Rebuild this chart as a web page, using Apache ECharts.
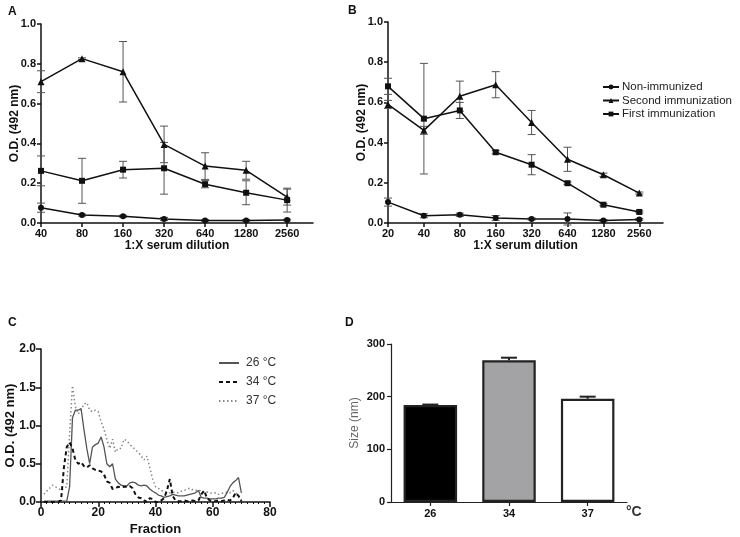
<!DOCTYPE html>
<html>
<head>
<meta charset="utf-8">
<script src="https://cdn.jsdelivr.net/npm/echarts@6/dist/echarts.min.js"></script>
<style>html,body{margin:0;padding:0;background:#fff}#c{width:740px;height:537px}</style>
</head>
<body>
<div id="c"></div>
<script>
// ---------- Panel A ----------
const dilA = ['40','80','160','320','640','1280','2560'];
const aNon = [0.077,0.040,0.034,0.020,0.013,0.013,0.015];
const aNonErr = [0.023,0.005,0.005,0.008,0.004,0.004,0.004];
const aSecond = [0.710,0.826,0.760,0.395,0.286,0.265,0.130];
const aSecondErr = [0.055,0.004,0.152,0.092,0.067,0.045,0.040];
const aFirst = [0.262,0.212,0.268,0.275,0.195,0.152,0.115];
const aFirstErr = [0.075,0.113,0.042,0.130,0.018,0.060,0.060];
// ---------- Panel B ----------
const dilB = ['20','40','80','160','320','640','1280','2560'];
const bNon = [0.104,0.036,0.041,0.025,0.020,0.020,0.013,0.018];
const bNonErr = [0.020,0.010,0.008,0.012,0.005,0.030,0.004,0.004];
const bSecond = [0.590,0.461,0.631,0.688,0.500,0.317,0.240,0.149];
const bSecondErr = [0.020,0.020,0.075,0.065,0.060,0.060,0.008,0.005];
const bFirst = [0.680,0.519,0.560,0.352,0.290,0.198,0.091,0.055];
const bFirstErr = [0.040,0.275,0.040,0.008,0.050,0.006,0.005,0.005];
// ---------- Panel C (fractions 1..70) ----------
const fractions = Array.from({length:70}, (_, i) => i + 1);
const c26 = [0.01,0.01,0.01,0.01,0.01,0.01,0.01,0.01,0.01,0.20,
             1.10,1.20,1.20,1.22,0.95,0.70,0.50,0.72,0.75,0.77,
             0.85,0.72,0.50,0.46,0.50,0.30,0.25,0.22,0.21,0.21,
             0.25,0.26,0.25,0.22,0.21,0.22,0.21,0.17,0.14,0.12,
             0.09,0.08,0.06,0.07,0.08,0.10,0.09,0.08,0.08,0.08,
             0.09,0.10,0.11,0.12,0.15,0.06,0.05,0.05,0.04,0.04,
             0.04,0.05,0.05,0.06,0.12,0.20,0.25,0.28,0.32,0.12];
const c34 = [0.00,0.00,0.00,0.00,0.00,0.00,0.02,0.45,0.72,0.78,
             0.70,0.55,0.50,0.52,0.47,0.45,0.48,0.44,0.42,0.41,
             0.40,0.36,0.27,0.25,0.17,0.18,0.20,0.19,0.20,0.20,
             0.21,0.18,0.10,0.06,0.05,0.02,0.00,0.05,0.04,0.00,
             0.00,0.02,0.05,0.15,0.30,0.08,0.02,0.01,0.01,0.02,
             0.01,0.01,0.02,0.01,0.02,0.10,0.15,0.05,0.02,0.02,
             0.01,0.02,0.01,0.02,0.03,0.02,0.05,0.12,0.08,0.01];
const c37 = [0.10,0.14,0.18,0.22,0.20,0.18,0.15,0.18,0.20,0.90,
             1.52,1.25,1.15,1.20,1.28,1.30,1.20,1.18,1.20,1.18,
             1.05,0.95,0.82,0.70,0.82,0.65,0.70,0.70,0.82,0.80,
             0.75,0.72,0.68,0.65,0.60,0.55,0.60,0.45,0.30,0.20,
             0.18,0.15,0.14,0.13,0.12,0.13,0.12,0.12,0.14,0.15,
             0.17,0.18,0.16,0.15,0.16,0.14,0.12,0.13,0.12,0.11,
             0.12,0.10,0.11,0.12,0.13,0.12,0.15,0.12,0.08,0.03];
// ---------- Panel D ----------
const temps = ['26','34','37'];
const sizes = [184,269,196];
const sizeErr = [1,5,4];

const FONT = 'Liberation Sans, Arial, sans-serif';
const pair = (vals) => vals.map((v, i) => [i, v]);
const errData = (vals, errs) => vals.map((v, i) => [i, v - errs[i], v + errs[i]]);

function errRender(capW, stroke, lw) {
  return function (params, api) {
    const x = api.value(0), lo = api.value(1), hi = api.value(2);
    const p1 = api.coord([x, hi]);
    const p2 = api.coord([x, lo]);
    const st = {stroke: stroke, lineWidth: lw};
    return {type: 'group', children: [
      {type: 'line', shape: {x1: p1[0], y1: p1[1], x2: p2[0], y2: p2[1]}, style: st},
      {type: 'line', shape: {x1: p1[0] - capW, y1: p1[1], x2: p1[0] + capW, y2: p1[1]}, style: st},
      {type: 'line', shape: {x1: p2[0] - capW, y1: p2[1], x2: p2[0] + capW, y2: p2[1]}, style: st}
    ]};
  };
}

const axisLineBold = {show: true, lineStyle: {color: '#111', width: 1.5}};
const tickBold = {show: true, length: 4, lineStyle: {color: '#111', width: 1.5}};
const labelBold = {color: '#111', fontFamily: FONT, fontWeight: 'bold', fontSize: 11};
const nameBold = {color: '#111', fontFamily: FONT, fontWeight: 'bold', fontSize: 12};

function dilXAxis(gridIndex, labels, max) {
  const idx = labels.map((_, i) => i);
  return {
    type: 'value', gridIndex: gridIndex, min: 0, max: max,
    name: '1:X serum dilution', nameLocation: 'middle', nameGap: 17, nameTextStyle: nameBold,
    axisLine: axisLineBold,
    axisTick: Object.assign({customValues: idx}, tickBold),
    axisLabel: Object.assign({customValues: idx, margin: 5, formatter: v => labels[Math.round(v)] || ''}, labelBold),
    splitLine: {show: false}
  };
}
function odYAxis(gridIndex) {
  return {
    type: 'value', gridIndex: gridIndex, min: 0, max: 1, interval: 0.2,
    name: 'O.D. (492 nm)', nameLocation: 'middle', nameGap: 20, nameMoveOverlap: false, nameTextStyle: nameBold,
    axisLine: axisLineBold, axisTick: tickBold,
    axisLabel: Object.assign({margin: 5, formatter: v => v.toFixed(1)}, labelBold),
    splitLine: {show: false}
  };
}

function lineSeries(name, xi, vals, symbol, size) {
  return {
    type: 'line', name: name, xAxisIndex: xi, yAxisIndex: xi, data: pair(vals),
    symbol: symbol, symbolSize: size, showSymbol: true,
    lineStyle: {color: '#111', width: 1.5}, itemStyle: {color: '#111'},
    emphasis: {disabled: true}, z: 3
  };
}
function errSeries(name, xi, vals, errs) {
  return {
    type: 'custom', name: name, xAxisIndex: xi, yAxisIndex: xi,
    renderItem: errRender(4, '#555', 1), data: errData(vals, errs),
    encode: {x: 0, y: [1, 2]}, z: 2, silent: true
  };
}

const option = {
  animation: false,
  backgroundColor: '#fff',
  textStyle: {fontFamily: FONT},
  title: [
    {text: 'A', left: 3, top: 1, textStyle: {fontSize: 12, fontWeight: 'bold', color: '#111', fontFamily: FONT}},
    {text: 'B', left: 343, top: 0, textStyle: {fontSize: 12, fontWeight: 'bold', color: '#111', fontFamily: FONT}},
    {text: 'C', left: 3, top: 312, textStyle: {fontSize: 12, fontWeight: 'bold', color: '#111', fontFamily: FONT}},
    {text: 'D', left: 340, top: 312, textStyle: {fontSize: 12, fontWeight: 'bold', color: '#111', fontFamily: FONT}}
  ],
  grid: [
    {left: 41, top: 24, width: 272, height: 199},
    {left: 388, top: 22, width: 275, height: 201},
    {left: 41, top: 349, width: 229, height: 153},
    {left: 391, top: 344, width: 236, height: 158}
  ],
  legend: [
    {
      orient: 'vertical', left: 597, top: 76, itemGap: 1.5, itemWidth: 16, itemHeight: 6,
      data: ['Non-immunized', 'Second immunization', 'First immunization'],
      textStyle: {fontFamily: FONT, fontSize: 11.5, color: '#222', padding: [0, 0, 0, -2]},
      selectedMode: false
    },
    {
      orient: 'vertical', left: 213, top: 352, itemGap: 7, itemWidth: 20, itemHeight: 10,
      data: ['26 °C', '34 °C', '37 °C'],
      itemStyle: {opacity: 0},
      textStyle: {fontFamily: FONT, fontSize: 12, color: '#333', padding: [0, 0, 0, 2]},
      selectedMode: false
    }
  ],
  xAxis: [
    dilXAxis(0, dilA, 6.63),
    dilXAxis(1, dilB, 7.66),
    {
      type: 'value', gridIndex: 2, min: 0, max: 80, interval: 20,
      name: 'Fraction', nameLocation: 'middle', nameGap: 21, nameTextStyle: Object.assign({}, nameBold, {fontSize: 13}),
      axisLine: axisLineBold, axisTick: {show: true, length: 5, lineStyle: {color: '#111', width: 1.5}},
      minorTick: {show: true, splitNumber: 10, length: 2, lineStyle: {color: '#111', width: 1}},
      axisLabel: Object.assign({}, labelBold, {fontSize: 12, margin: 5}),
      splitLine: {show: false}
    },
    {
      type: 'category', gridIndex: 3, data: temps,
      axisLine: {show: true, lineStyle: {color: '#222', width: 1.2}},
      axisTick: {show: true, alignWithLabel: true, length: 4, lineStyle: {color: '#222', width: 1.2}},
      axisLabel: Object.assign({}, labelBold, {margin: 6}),
      splitLine: {show: false}
    }
  ],
  yAxis: [
    odYAxis(0),
    odYAxis(1),
    {
      type: 'value', gridIndex: 2, min: 0, max: 2, interval: 0.5,
      name: 'O.D. (492 nm)', nameLocation: 'middle', nameGap: 24, nameMoveOverlap: false,
      nameTextStyle: Object.assign({}, nameBold, {fontSize: 13}),
      axisLine: axisLineBold, axisTick: {show: true, length: 5, lineStyle: {color: '#111', width: 1.5}},
      axisLabel: Object.assign({}, labelBold, {fontSize: 12, margin: 5, formatter: v => v.toFixed(1)}),
      splitLine: {show: false}
    },
    {
      type: 'value', gridIndex: 3, min: 0, max: 300, interval: 100,
      name: 'Size (nm)', nameLocation: 'middle', nameGap: 30,
      nameTextStyle: {color: '#666', fontFamily: FONT, fontSize: 12},
      axisLine: {show: true, lineStyle: {color: '#222', width: 1.2}},
      axisTick: {show: true, length: 4, lineStyle: {color: '#222', width: 1.2}},
      axisLabel: Object.assign({}, labelBold, {margin: 6}),
      splitLine: {show: false}
    }
  ],
  graphic: [
    {type: 'text', left: 626, top: 505, style: {text: '°C', font: 'bold 14px ' + FONT, fill: '#333'}}
  ],
  series: [
    // A
    errSeries('errA1', 0, aNon, aNonErr),
    errSeries('errA2', 0, aSecond, aSecondErr),
    errSeries('errA3', 0, aFirst, aFirstErr),
    lineSeries('Non-immunized', 0, aNon, 'circle', 6),
    lineSeries('Second immunization', 0, aSecond, 'triangle', 7),
    lineSeries('First immunization', 0, aFirst, 'rect', 6),
    // B
    errSeries('errB1', 1, bNon, bNonErr),
    errSeries('errB2', 1, bSecond, bSecondErr),
    errSeries('errB3', 1, bFirst, bFirstErr),
    lineSeries('Non-immunized', 1, bNon, 'circle', 6),
    lineSeries('Second immunization', 1, bSecond, 'triangle', 7),
    lineSeries('First immunization', 1, bFirst, 'rect', 6),
    // C
    {type: 'line', name: '26 °C', xAxisIndex: 2, yAxisIndex: 2, data: fractions.map((f, i) => [f, c26[i]]),
     symbol: 'none', lineStyle: {color: '#555', width: 1.3, type: 'solid'}, itemStyle: {color: '#555'}, z: 3},
    {type: 'line', name: '34 °C', xAxisIndex: 2, yAxisIndex: 2, data: fractions.map((f, i) => [f, c34[i]]),
     symbol: 'none', lineStyle: {color: '#111', width: 2, type: [4, 3]}, itemStyle: {color: '#111'}, z: 4},
    {type: 'line', name: '37 °C', xAxisIndex: 2, yAxisIndex: 2, data: fractions.map((f, i) => [f, c37[i]]),
     symbol: 'none', lineStyle: {color: '#888', width: 1.5, type: [1.5, 2.5]}, itemStyle: {color: '#888'}, z: 2},
    // D
    {type: 'bar', name: 'Size', xAxisIndex: 3, yAxisIndex: 3, barWidth: '68%',
     data: sizes.map((v, i) => ({value: v, itemStyle: {
       color: ['#000', '#a3a3a5', '#fff'][i], borderColor: '#222', borderWidth: 2.2}})),
     z: 2},
    {type: 'custom', name: 'errD', xAxisIndex: 3, yAxisIndex: 3,
     data: sizes.map((v, i) => [i, v, v + sizeErr[i]]),
     encode: {x: 0, y: [1, 2]}, z: 3, silent: true,
     renderItem: function (params, api) {
       const x = api.value(0), lo = api.value(1), hi = api.value(2);
       const p1 = api.coord([x, hi]), p2 = api.coord([x, lo]);
       const st = {stroke: '#222', lineWidth: 2};
       return {type: 'group', children: [
         {type: 'line', shape: {x1: p1[0], y1: p1[1], x2: p2[0], y2: p2[1]}, style: st},
         {type: 'line', shape: {x1: p1[0] - 8, y1: p1[1], x2: p1[0] + 8, y2: p1[1]}, style: st}
       ]};
     }}
  ]
};

const chart = echarts.init(document.getElementById('c'), null, {renderer: 'canvas'});
chart.setOption(option);
</script>
</body>
</html>
